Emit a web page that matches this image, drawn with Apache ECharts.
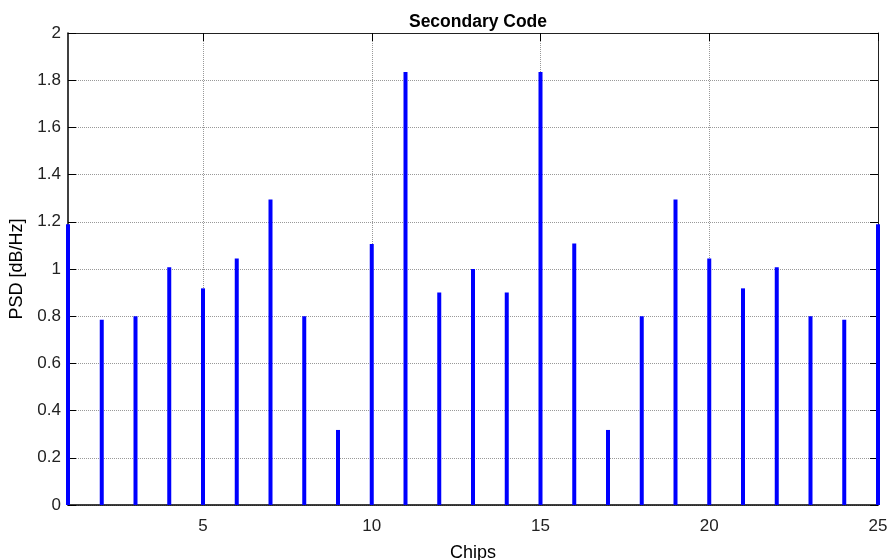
<!DOCTYPE html>
<html>
<head>
<meta charset="utf-8">
<script src="https://cdn.jsdelivr.net/npm/echarts@6/dist/echarts.min.js"></script>
<style>html,body{margin:0;padding:0;background:#fff;}#c{width:890px;height:560px;}</style>
</head>
<body>
<div id="c"></div>
<script>
var chips = [1,2,3,4,5,6,7,8,9,10,11,12,13,14,15,16,17,18,19,20,21,22,23,24,25];
var psd = [1.19,0.785,0.80,1.007,0.918,1.045,1.295,0.80,0.318,1.106,1.835,0.90,1.0,0.90,1.835,1.108,0.318,0.80,1.295,1.045,0.918,1.007,0.80,0.785,1.19];
var xTicks = [5,10,15,20,25];
var yTicks = [0,0.2,0.4,0.6,0.8,1,1.2,1.4,1.6,1.8,2];
var titleText = 'Secondary Code';
var xName = 'Chips';
var yName = 'PSD [dB/Hz]';

var font = 'Liberation Sans, Arial, sans-serif';
var chart = echarts.init(document.getElementById('c'), null, {renderer:'canvas'});
var gridLine = {show:true, lineStyle:{color:'#999', type:[1,1], width:1}};
var option = {
  animation:false,
  backgroundColor:'#fff',
  title:{text:titleText, left:473, textAlign:'center', top:8,
    textStyle:{fontFamily:font, fontWeight:'bold', fontSize:17.5, color:'#000'}},
  grid:{left:68, right:12, top:33, bottom:55, containLabel:false, outerBoundsMode:'none'},
  xAxis:[{
    type:'value', min:1, max:25,
    name:xName, nameLocation:'middle', nameGap:39,
    nameTextStyle:{fontFamily:font, fontSize:18, color:'#000'},
    axisLine:{show:true, onZero:false, lineStyle:{color:'#000', width:1.5}},
    axisTick:{show:true, inside:true, length:8, customValues:xTicks, lineStyle:{color:'#000'}},
    axisLabel:{show:true, customValues:xTicks, margin:13, fontFamily:font, fontSize:17, color:'#222'},
    splitLine:gridLine
  },{
    type:'value', min:1, max:25, position:'top',
    axisLine:{show:true, onZero:false, lineStyle:{color:'#222', width:1}},
    axisTick:{show:true, inside:true, length:8, customValues:xTicks, lineStyle:{color:'#000'}},
    axisLabel:{show:false},
    splitLine:{show:false}
  }],
  yAxis:[{
    type:'value', min:0, max:2, interval:0.2,
    name:yName, nameLocation:'middle', nameGap:36,
    nameTextStyle:{fontFamily:font, fontSize:18, color:'#000'},
    axisLine:{show:true, onZero:false, lineStyle:{color:'#000', width:1.5}},
    axisTick:{show:true, inside:true, length:8, lineStyle:{color:'#000'}},
    axisLabel:{show:true, margin:7, fontFamily:font, fontSize:17, color:'#222'},
    splitLine:gridLine
  },{
    type:'value', min:0, max:2, interval:0.2, position:'right',
    axisLine:{show:true, onZero:false, lineStyle:{color:'#222', width:1}},
    axisTick:{show:true, inside:true, length:8, lineStyle:{color:'#000'}},
    axisLabel:{show:false},
    splitLine:{show:false}
  }],
  series:[{
    type:'bar',
    xAxisIndex:0, yAxisIndex:0,
    barWidth:4,
    clip:false,
    itemStyle:{color:'#0000ff'},
    data:chips.map(function(c,i){return [c, psd[i]];})
  }]
};
chart.setOption(option);
</script>
</body>
</html>
